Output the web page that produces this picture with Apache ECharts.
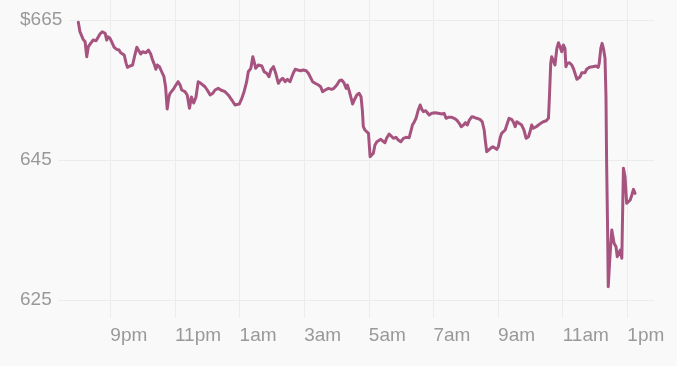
<!DOCTYPE html>
<html>
<head>
<meta charset="utf-8">
<script src="https://cdn.jsdelivr.net/npm/echarts@6/dist/echarts.min.js"></script>
<style>
html,body{margin:0;padding:0;background:#f9f9f9;}
#chart{width:677px;height:366px;}
</style>
</head>
<body>
<div id="chart"></div>
<script>
// time in hours counted from noon of day 1 (20 = 8pm, 24 = midnight, 37 = 1pm next day)
var times = [
20.01,20.06,20.11,20.16,20.22,20.27,20.32,20.39,20.47,20.56,20.60,20.68,20.75,20.84,20.89,20.92,20.99,
21.04,21.12,21.20,21.27,21.32,21.38,21.43,21.49,21.53,21.61,21.69,21.76,21.82,21.87,21.94,
22.00,22.10,22.18,22.25,22.30,22.35,22.41,22.45,22.52,22.59,22.66,22.71,22.76,22.81,22.85,22.90,22.97,
23.03,23.10,23.16,23.21,23.31,23.38,23.45,23.51,23.58,23.65,23.72,23.80,23.86,23.93,
24.00,24.09,24.17,24.24,24.34,24.42,24.48,24.55,24.65,24.76,24.86,24.91,24.99,
25.07,25.14,25.22,25.27,25.35,25.41,25.45,25.50,25.58,25.69,25.76,25.84,25.91,25.97,
26.05,26.12,26.20,26.27,26.34,26.41,26.48,26.56,26.61,26.66,26.72,26.80,26.89,26.97,
27.06,27.13,27.26,27.34,27.44,27.51,27.57,27.65,27.75,27.85,27.92,
28.01,28.09,28.16,28.23,28.30,28.34,28.40,28.44,28.50,28.55,28.63,28.70,28.76,28.80,28.83,28.88,28.94,28.99,
29.04,29.09,29.14,29.19,29.25,29.30,29.37,29.43,29.50,29.55,29.63,29.69,29.76,29.84,29.91,29.99,
30.07,30.15,30.25,30.31,30.35,30.41,30.46,30.53,30.59,30.64,30.69,30.76,30.82,30.87,30.95,
31.05,31.15,31.26,31.33,31.39,31.46,31.57,31.64,31.72,31.80,31.86,31.93,31.99,
32.05,32.11,32.19,32.26,32.34,32.44,32.51,32.57,32.61,32.65,32.70,32.77,32.84,32.89,32.96,
33.01,33.06,33.11,33.16,33.22,33.27,33.34,33.42,33.47,33.53,33.58,33.65,33.73,33.80,33.87,33.94,33.99,
34.04,34.09,34.18,34.25,34.32,34.40,34.49,34.56,34.59,34.63,34.66,34.71,34.76,34.82,34.87,34.92,34.97,
35.02,35.07,35.10,35.14,35.21,35.28,35.33,35.38,35.44,35.49,35.54,35.59,35.64,35.69,35.74,35.83,35.93,
36.03,36.10,36.13,36.18,36.22,36.26,36.31,36.34,36.36,36.39,36.41,36.45,36.49,36.52,36.55,36.59,36.65,36.69,36.75,36.78,36.83,36.86,36.88,36.93,36.98,
37.03,37.09,37.14,37.19,37.24
];
var prices = [
664.67,663.33,663.10,662.24,661.90,659.76,661.19,661.67,662.14,662.04,661.76,663.00,663.33,663.10,662.14,662.61,662.39,
661.90,661.10,660.81,660.71,660.33,660.47,660.00,658.81,658.24,658.43,658.57,660.00,661.10,660.71,660.14,
660.47,660.33,660.71,660.14,659.39,658.81,657.96,658.57,658.33,657.61,656.90,655.47,652.29,653.96,654.53,654.76,655.24,
655.71,656.19,655.71,655.00,654.76,654.29,652.39,654.00,653.14,653.96,656.19,655.96,656.19,655.47,
655.00,654.29,654.53,655.00,655.24,655.00,655.24,654.76,654.29,653.57,652.86,652.61,653.00,
653.81,654.76,656.19,657.61,658.10,659.76,659.04,658.10,658.57,658.43,657.61,657.39,656.90,657.86,
658.33,657.39,655.96,656.43,656.67,656.19,656.53,656.19,656.43,657.39,657.96,657.86,657.76,657.86,
657.76,657.39,656.19,655.96,655.71,655.47,654.76,655.00,655.24,655.10,655.24,
655.71,656.33,656.43,656.04,655.24,655.71,654.76,654.04,653.00,653.57,654.29,654.53,654.04,652.14,649.76,649.29,649.39,648.81,
645.47,645.71,645.96,647.14,647.61,647.86,647.96,648.10,647.47,648.10,648.71,648.43,648.10,648.24,647.86,647.61,
648.10,648.24,648.19,648.33,650.00,650.47,650.96,652.14,652.86,652.24,651.90,652.04,651.90,651.43,651.67,
651.76,651.67,651.57,651.67,650.96,651.10,651.10,650.96,650.71,650.24,649.76,650.00,650.33,
650.00,650.71,651.19,651.10,650.96,650.81,650.47,649.29,647.61,646.19,646.43,646.67,646.90,646.67,646.53,
646.90,648.10,648.81,648.57,649.29,650.00,650.96,650.81,650.47,649.76,650.47,650.24,650.00,649.29,648.10,648.33,649.04,
650.00,649.53,649.76,650.00,650.24,650.47,650.61,650.96,654.04,658.81,659.76,659.53,658.57,660.96,661.76,661.19,660.47,
661.43,660.96,658.33,658.81,658.90,658.57,658.10,657.39,656.53,656.67,656.90,657.47,657.61,657.47,657.96,658.24,658.33,
658.43,658.24,658.81,660.96,661.67,660.96,659.53,654.04,644.53,635.00,626.90,630.24,633.10,635.00,635.24,633.10,632.61,631.19,631.19,632.14,630.96,638.81,643.81,642.61,638.81,
638.57,639.29,640.00,640.81,640.24
];
var xTicks = [21,23,25,27,29,31,33,35,37];
var yTicks = [625,645,665];

function hourLabel(h){
  var hh = ((h % 24) + 24) % 24;
  var suffix = hh >= 12 ? 'pm' : 'am';
  var d = hh % 12; if (d === 0) d = 12;
  return d + suffix;
}

var seriesData = times.map(function(t,i){ return [t, prices[i]]; });

var textColor = '#999999';
var gridColor = '#ececec';
var font = 'Liberation Sans';

var chart = echarts.init(document.getElementById('chart'), null, {renderer:'canvas'});
chart.setOption({
  backgroundColor: '#f9f9f9',
  animation: false,
  grid: {left: 20, right: 23, top: 0, bottom: 48, containLabel: false},
  xAxis: {
    type: 'value',
    min: 18.205, max: 37.826,
    axisLine: {show: false},
    axisTick: {show: false, customValues: xTicks},
    splitLine: {show: true, lineStyle: {color: gridColor, width: 1}},
    axisLabel: {
      customValues: xTicks,
      formatter: function(v){ return hourLabel(v); },
      color: textColor, fontFamily: font, fontSize: 19,
      align: 'left', margin: 8
    }
  },
  yAxis: [{
    type: 'value',
    min: 622.43, max: 667.86,
    z: 0,
    axisLine: {show: false},
    axisTick: {show: false, customValues: yTicks},
    axisLabel: {show: false, customValues: yTicks},
    splitLine: {show: true, lineStyle: {color: gridColor, width: 1}}
  },{
    type: 'value',
    min: 622.43, max: 667.86,
    position: 'left',
    z: 5,
    axisLine: {show: false},
    axisTick: {show: false, customValues: yTicks},
    splitLine: {show: false},
    axisLabel: {
      customValues: yTicks,
      inside: true, margin: 0, align: 'left',
      formatter: function(v){ return v === 665 ? '$' + v : String(v); },
      color: textColor, fontFamily: font, fontSize: 19,
      backgroundColor: '#f9f9f9', padding: [0, 7, 0, 0]
    }
  }],
  series: [{
    type: 'line',
    data: seriesData,
    yAxisIndex: 0,
    z: 2,
    showSymbol: false,
    symbol: 'none',
    lineStyle: {color: '#a6547f', width: 3, join: 'round', cap: 'round'}
  }]
});
</script>
</body>
</html>
